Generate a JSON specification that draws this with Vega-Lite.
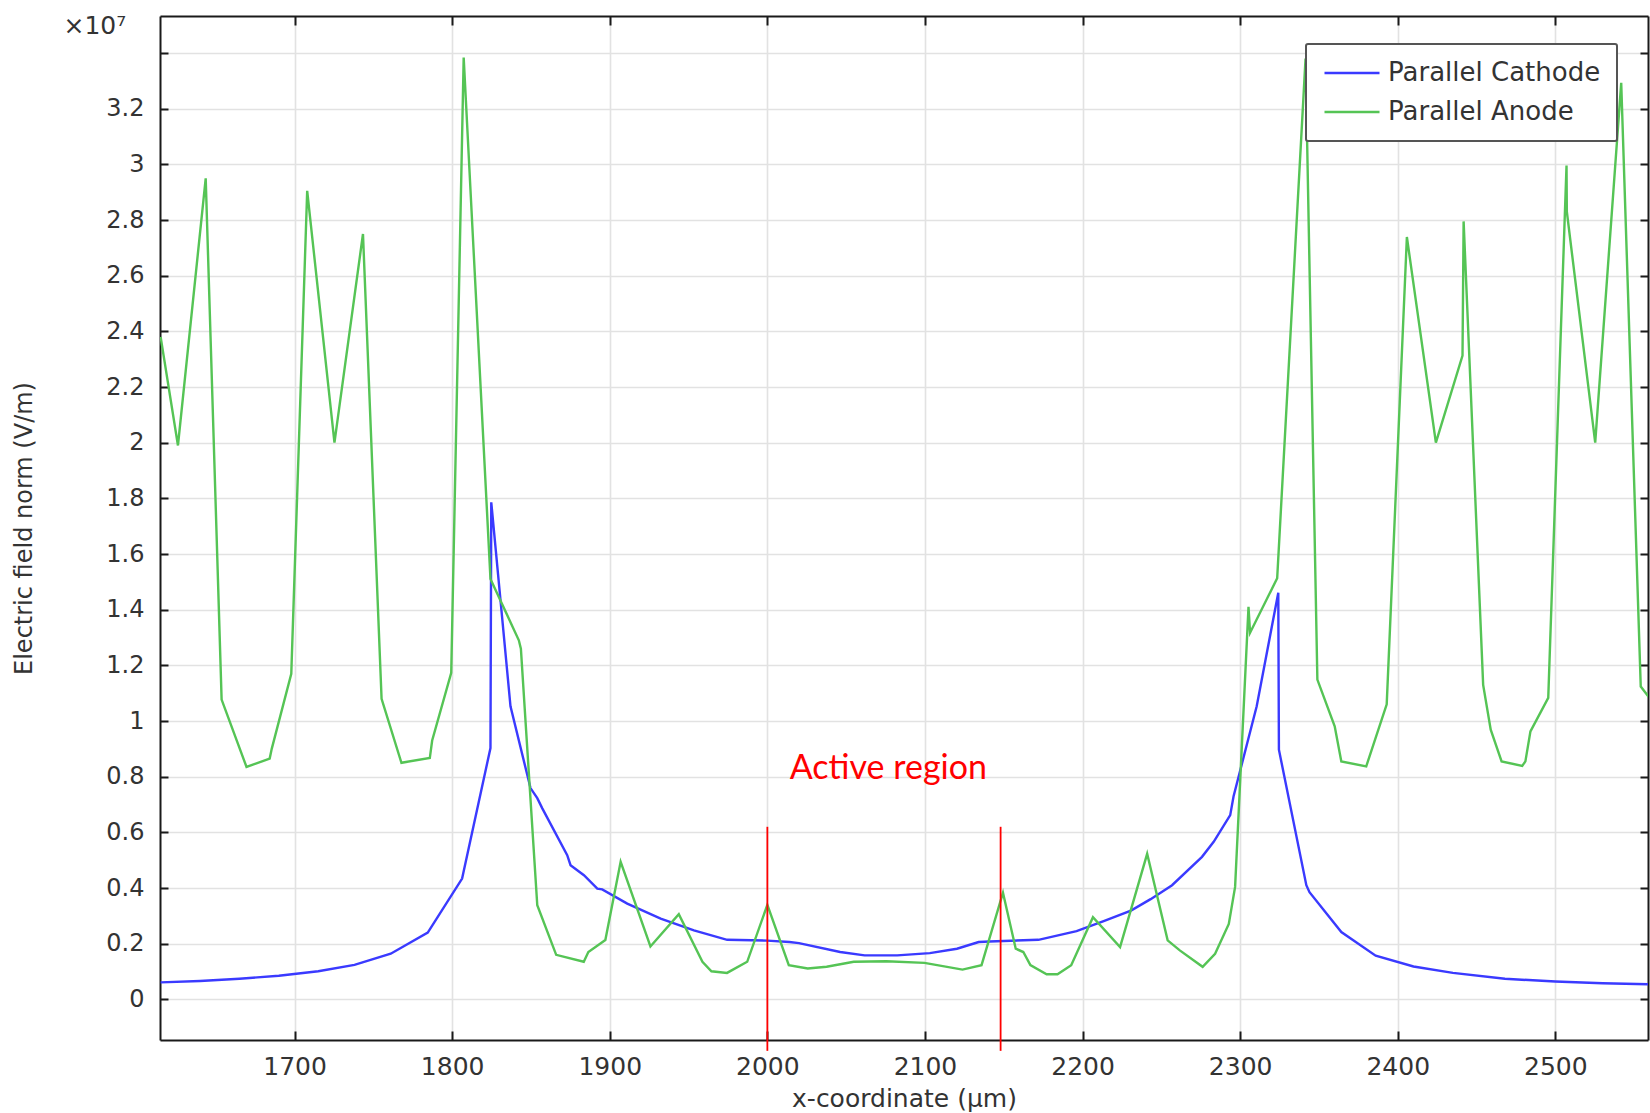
{
  "$schema": "https://vega.github.io/schema/vega-lite/v6.json",
  "width": 1488,
  "height": 1024,
  "autosize": {"type": "none"},
  "padding": {"left": 160, "top": 16, "right": 2, "bottom": 73},
  "background": "white",
  "config": {
    "view": {"stroke": null},
    "font": "DejaVu Sans",
    "legend": {"strokeWidth": 2}
  },
  "datasets": {
    "fields": [
      {"series": "Parallel Cathode", "x": 1615, "E": 0.061},
      {"series": "Parallel Cathode", "x": 1640, "E": 0.066},
      {"series": "Parallel Cathode", "x": 1665, "E": 0.074},
      {"series": "Parallel Cathode", "x": 1690, "E": 0.085},
      {"series": "Parallel Cathode", "x": 1715, "E": 0.101},
      {"series": "Parallel Cathode", "x": 1738, "E": 0.124},
      {"series": "Parallel Cathode", "x": 1761, "E": 0.164},
      {"series": "Parallel Cathode", "x": 1784.5, "E": 0.24},
      {"series": "Parallel Cathode", "x": 1806.3, "E": 0.434},
      {"series": "Parallel Cathode", "x": 1824.3, "E": 0.903},
      {"series": "Parallel Cathode", "x": 1824.8, "E": 1.786},
      {"series": "Parallel Cathode", "x": 1837, "E": 1.053},
      {"series": "Parallel Cathode", "x": 1849.7, "E": 0.759},
      {"series": "Parallel Cathode", "x": 1854, "E": 0.723},
      {"series": "Parallel Cathode", "x": 1857.1, "E": 0.687},
      {"series": "Parallel Cathode", "x": 1873, "E": 0.518},
      {"series": "Parallel Cathode", "x": 1875.1, "E": 0.482},
      {"series": "Parallel Cathode", "x": 1883.6, "E": 0.446},
      {"series": "Parallel Cathode", "x": 1892.1, "E": 0.398},
      {"series": "Parallel Cathode", "x": 1895.2, "E": 0.395},
      {"series": "Parallel Cathode", "x": 1911.1, "E": 0.344},
      {"series": "Parallel Cathode", "x": 1932.3, "E": 0.29},
      {"series": "Parallel Cathode", "x": 1953.4, "E": 0.248},
      {"series": "Parallel Cathode", "x": 1974.5, "E": 0.214},
      {"series": "Parallel Cathode", "x": 2000, "E": 0.211},
      {"series": "Parallel Cathode", "x": 2014, "E": 0.206},
      {"series": "Parallel Cathode", "x": 2020, "E": 0.202},
      {"series": "Parallel Cathode", "x": 2046.2, "E": 0.17},
      {"series": "Parallel Cathode", "x": 2061.7, "E": 0.158},
      {"series": "Parallel Cathode", "x": 2082.4, "E": 0.158},
      {"series": "Parallel Cathode", "x": 2103.1, "E": 0.166},
      {"series": "Parallel Cathode", "x": 2120.3, "E": 0.182},
      {"series": "Parallel Cathode", "x": 2134.1, "E": 0.206},
      {"series": "Parallel Cathode", "x": 2141, "E": 0.208},
      {"series": "Parallel Cathode", "x": 2172, "E": 0.214},
      {"series": "Parallel Cathode", "x": 2196.2, "E": 0.245},
      {"series": "Parallel Cathode", "x": 2213.4, "E": 0.281},
      {"series": "Parallel Cathode", "x": 2230.7, "E": 0.319},
      {"series": "Parallel Cathode", "x": 2243.2, "E": 0.36},
      {"series": "Parallel Cathode", "x": 2256.8, "E": 0.41},
      {"series": "Parallel Cathode", "x": 2275.8, "E": 0.512},
      {"series": "Parallel Cathode", "x": 2283.2, "E": 0.566},
      {"series": "Parallel Cathode", "x": 2293.7, "E": 0.662},
      {"series": "Parallel Cathode", "x": 2295.8, "E": 0.729},
      {"series": "Parallel Cathode", "x": 2310.5, "E": 1.053},
      {"series": "Parallel Cathode", "x": 2324.2, "E": 1.461},
      {"series": "Parallel Cathode", "x": 2324.6, "E": 0.897},
      {"series": "Parallel Cathode", "x": 2342, "E": 0.41},
      {"series": "Parallel Cathode", "x": 2344, "E": 0.385},
      {"series": "Parallel Cathode", "x": 2364.2, "E": 0.242},
      {"series": "Parallel Cathode", "x": 2386, "E": 0.157},
      {"series": "Parallel Cathode", "x": 2410, "E": 0.118},
      {"series": "Parallel Cathode", "x": 2435, "E": 0.095},
      {"series": "Parallel Cathode", "x": 2468, "E": 0.074},
      {"series": "Parallel Cathode", "x": 2500, "E": 0.064},
      {"series": "Parallel Cathode", "x": 2530, "E": 0.058},
      {"series": "Parallel Cathode", "x": 2559, "E": 0.054},
      {"series": "Parallel Anode", "x": 1615, "E": 2.38},
      {"series": "Parallel Anode", "x": 1626, "E": 1.99},
      {"series": "Parallel Anode", "x": 1643.6, "E": 2.95},
      {"series": "Parallel Anode", "x": 1653.7, "E": 1.077},
      {"series": "Parallel Anode", "x": 1669.5, "E": 0.835},
      {"series": "Parallel Anode", "x": 1684.2, "E": 0.865},
      {"series": "Parallel Anode", "x": 1685.5, "E": 0.9},
      {"series": "Parallel Anode", "x": 1697.9, "E": 1.17},
      {"series": "Parallel Anode", "x": 1708, "E": 2.905},
      {"series": "Parallel Anode", "x": 1725.3, "E": 2.0},
      {"series": "Parallel Anode", "x": 1743.4, "E": 2.75},
      {"series": "Parallel Anode", "x": 1755.2, "E": 1.08},
      {"series": "Parallel Anode", "x": 1767.8, "E": 0.85},
      {"series": "Parallel Anode", "x": 1785.8, "E": 0.867},
      {"series": "Parallel Anode", "x": 1787.3, "E": 0.93},
      {"series": "Parallel Anode", "x": 1799.4, "E": 1.173},
      {"series": "Parallel Anode", "x": 1807.3, "E": 3.384},
      {"series": "Parallel Anode", "x": 1824.3, "E": 1.51},
      {"series": "Parallel Anode", "x": 1842.3, "E": 1.29},
      {"series": "Parallel Anode", "x": 1843.6, "E": 1.26},
      {"series": "Parallel Anode", "x": 1854, "E": 0.338},
      {"series": "Parallel Anode", "x": 1866, "E": 0.16},
      {"series": "Parallel Anode", "x": 1883.5, "E": 0.135},
      {"series": "Parallel Anode", "x": 1886.4, "E": 0.17},
      {"series": "Parallel Anode", "x": 1897.2, "E": 0.213},
      {"series": "Parallel Anode", "x": 1906.9, "E": 0.494},
      {"series": "Parallel Anode", "x": 1925.8, "E": 0.19},
      {"series": "Parallel Anode", "x": 1943.8, "E": 0.306},
      {"series": "Parallel Anode", "x": 1958.8, "E": 0.135},
      {"series": "Parallel Anode", "x": 1964.5, "E": 0.101},
      {"series": "Parallel Anode", "x": 1974.4, "E": 0.095},
      {"series": "Parallel Anode", "x": 1987.2, "E": 0.135},
      {"series": "Parallel Anode", "x": 2000, "E": 0.34},
      {"series": "Parallel Anode", "x": 2013.6, "E": 0.123},
      {"series": "Parallel Anode", "x": 2025.6, "E": 0.111},
      {"series": "Parallel Anode", "x": 2037.6, "E": 0.117},
      {"series": "Parallel Anode", "x": 2054.8, "E": 0.135},
      {"series": "Parallel Anode", "x": 2075.5, "E": 0.137},
      {"series": "Parallel Anode", "x": 2099.7, "E": 0.131},
      {"series": "Parallel Anode", "x": 2123.8, "E": 0.107},
      {"series": "Parallel Anode", "x": 2135.9, "E": 0.123},
      {"series": "Parallel Anode", "x": 2149.5, "E": 0.383},
      {"series": "Parallel Anode", "x": 2157.6, "E": 0.182},
      {"series": "Parallel Anode", "x": 2162.4, "E": 0.17},
      {"series": "Parallel Anode", "x": 2166.9, "E": 0.123},
      {"series": "Parallel Anode", "x": 2177.2, "E": 0.09},
      {"series": "Parallel Anode", "x": 2184.1, "E": 0.09},
      {"series": "Parallel Anode", "x": 2192.8, "E": 0.123},
      {"series": "Parallel Anode", "x": 2206.6, "E": 0.295},
      {"series": "Parallel Anode", "x": 2223.8, "E": 0.188},
      {"series": "Parallel Anode", "x": 2241, "E": 0.523},
      {"series": "Parallel Anode", "x": 2254, "E": 0.212},
      {"series": "Parallel Anode", "x": 2261.7, "E": 0.176},
      {"series": "Parallel Anode", "x": 2276.2, "E": 0.117},
      {"series": "Parallel Anode", "x": 2284.1, "E": 0.164},
      {"series": "Parallel Anode", "x": 2292.8, "E": 0.271},
      {"series": "Parallel Anode", "x": 2296.8, "E": 0.404},
      {"series": "Parallel Anode", "x": 2305.3, "E": 1.41},
      {"series": "Parallel Anode", "x": 2306.3, "E": 1.317},
      {"series": "Parallel Anode", "x": 2323.5, "E": 1.513},
      {"series": "Parallel Anode", "x": 2341.5, "E": 3.38},
      {"series": "Parallel Anode", "x": 2349, "E": 1.149},
      {"series": "Parallel Anode", "x": 2360, "E": 0.981},
      {"series": "Parallel Anode", "x": 2364.2, "E": 0.855},
      {"series": "Parallel Anode", "x": 2380, "E": 0.837},
      {"series": "Parallel Anode", "x": 2393, "E": 1.06},
      {"series": "Parallel Anode", "x": 2405.8, "E": 2.739},
      {"series": "Parallel Anode", "x": 2424.2, "E": 2.0},
      {"series": "Parallel Anode", "x": 2441.1, "E": 2.313},
      {"series": "Parallel Anode", "x": 2441.8, "E": 2.795},
      {"series": "Parallel Anode", "x": 2454.2, "E": 1.13},
      {"series": "Parallel Anode", "x": 2459, "E": 0.969},
      {"series": "Parallel Anode", "x": 2465.9, "E": 0.855},
      {"series": "Parallel Anode", "x": 2479, "E": 0.839},
      {"series": "Parallel Anode", "x": 2481, "E": 0.855},
      {"series": "Parallel Anode", "x": 2484.2, "E": 0.963},
      {"series": "Parallel Anode", "x": 2495.5, "E": 1.083},
      {"series": "Parallel Anode", "x": 2507.1, "E": 2.996},
      {"series": "Parallel Anode", "x": 2507.3, "E": 2.83},
      {"series": "Parallel Anode", "x": 2525.3, "E": 2.0},
      {"series": "Parallel Anode", "x": 2541.8, "E": 3.293},
      {"series": "Parallel Anode", "x": 2554.2, "E": 1.124},
      {"series": "Parallel Anode", "x": 2559.5, "E": 1.085}
    ],
    "markers": [
      {"x": 2000, "top": 0.62, "bottom": -0.185},
      {"x": 2148, "top": 0.62, "bottom": -0.185}
    ],
    "note": [
      {"x": 2076.8, "E": 0.793, "label": "Active region"}
    ]
  },
  "layer": [
    {
      "data": {"name": "fields"},
      "mark": {"type": "line", "strokeWidth": 2.4, "clip": true},
      "encoding": {
        "x": {
          "field": "x",
          "type": "quantitative",
          "scale": {"domain": [1614.6, 2558.8], "nice": false, "zero": false},
          "axis": {
            "orient": "bottom",
            "values": [1700, 1800, 1900, 2000, 2100, 2200, 2300, 2400, 2500],
            "format": "d",
            "grid": true,
            "gridColor": "#e2e2e2",
            "gridWidth": 1.6,
            "domainColor": "#1a1a1a",
            "domainWidth": 2,
            "tickColor": "#1a1a1a",
            "tickWidth": 2,
            "tickSize": -9,
            "labelFontSize": 25,
            "labelColor": "#333333",
            "labelPadding": 23,
            "title": "x-coordinate (µm)",
            "titleFontSize": 25,
            "titleFontWeight": "normal",
            "titleColor": "#333333",
            "titleY": 58,
            "titleBaseline": "middle"
          }
        },
        "y": {
          "field": "E",
          "type": "quantitative",
          "scale": {"domain": [-0.146, 3.533], "nice": false, "zero": false},
          "axis": {
            "orient": "left",
            "values": [0, 0.2, 0.4, 0.6, 0.8, 1, 1.2, 1.4, 1.6, 1.8, 2, 2.2, 2.4, 2.6, 2.8, 3, 3.2, 3.4],
            "labelExpr": "datum.value > 3.3 ? '' : format(datum.value, '~g')",
            "grid": true,
            "gridColor": "#e2e2e2",
            "gridWidth": 1.6,
            "domainColor": "#1a1a1a",
            "domainWidth": 2,
            "tickColor": "#1a1a1a",
            "tickWidth": 2,
            "tickSize": -8,
            "labelFontSize": 24,
            "labelColor": "#333333",
            "labelPadding": 24,
            "title": "Electric field norm (V/m)",
            "titleFontSize": 24,
            "titleFontWeight": "normal",
            "titleColor": "#333333",
            "titleX": -136,
            "titleBaseline": "middle"
          }
        },
        "color": {
          "field": "series",
          "type": "nominal",
          "scale": {"domain": ["Parallel Cathode", "Parallel Anode"], "range": ["#3a3aff", "#55c455"]},
          "legend": {
            "orient": "none",
            "legendX": 1146,
            "legendY": 28,
            "title": null,
            "symbolType": "M-5,0H5",
            "symbolSize": 121,
            "symbolStrokeWidth": 2.5,
            "symbolOffset": 17,
            "labelOffset": 23,
            "labelFontSize": 26,
            "labelColor": "#333333",
            "labelLimit": 500,
            "padding": 16,
            "rowPadding": 13,
            "strokeColor": "#555555",
            "fillColor": "white",
            "cornerRadius": 2
          }
        }
      }
    },
    {
      "data": {"name": "markers"},
      "mark": {"type": "rule", "color": "#ff0000", "strokeWidth": 1.8},
      "encoding": {
        "x": {
          "field": "x",
          "type": "quantitative",
          "scale": {"domain": [1614.6, 2558.8], "nice": false, "zero": false},
          "axis": {
            "orient": "top",
            "values": [1700, 1800, 1900, 2000, 2100, 2200, 2300, 2400, 2500],
            "grid": false,
            "labels": false,
            "title": null,
            "domainColor": "#1a1a1a",
            "domainWidth": 2,
            "tickColor": "#1a1a1a",
            "tickWidth": 2,
            "tickSize": -9
          }
        },
        "y": {
          "field": "top",
          "type": "quantitative",
          "scale": {"domain": [-0.146, 3.533], "nice": false, "zero": false},
          "axis": {
            "orient": "right",
            "values": [0, 0.2, 0.4, 0.6, 0.8, 1, 1.2, 1.4, 1.6, 1.8, 2, 2.2, 2.4, 2.6, 2.8, 3, 3.2, 3.4],
            "grid": false,
            "labels": false,
            "title": null,
            "domainColor": "#1a1a1a",
            "domainWidth": 2,
            "tickColor": "#1a1a1a",
            "tickWidth": 2,
            "tickSize": -8
          }
        },
        "y2": {"field": "bottom"}
      }
    },
    {
      "data": {"name": "note"},
      "mark": {"type": "text", "font": "Lato", "fontSize": 34, "color": "#ff0000", "align": "center", "baseline": "alphabetic"},
      "encoding": {
        "x": {"field": "x", "type": "quantitative", "scale": {"domain": [1614.6, 2558.8], "nice": false, "zero": false}, "axis": null},
        "y": {
          "field": "E",
          "type": "quantitative",
          "scale": {"domain": [-0.146, 3.533], "nice": false, "zero": false},
          "axis": {
            "orient": "left",
            "domain": false,
            "ticks": false,
            "labels": false,
            "grid": false,
            "title": "×10⁷",
            "titleAngle": 0,
            "titleX": -97,
            "titleY": 17,
            "titleAlign": "left",
            "titleBaseline": "alphabetic",
            "titleFontSize": 25,
            "titleFontWeight": "normal",
            "titleFont": "DejaVu Sans",
            "titleColor": "#333333"
          }
        },
        "text": {"field": "label"}
      }
    }
  ],
  "resolve": {"axis": {"x": "independent", "y": "independent"}}
}
